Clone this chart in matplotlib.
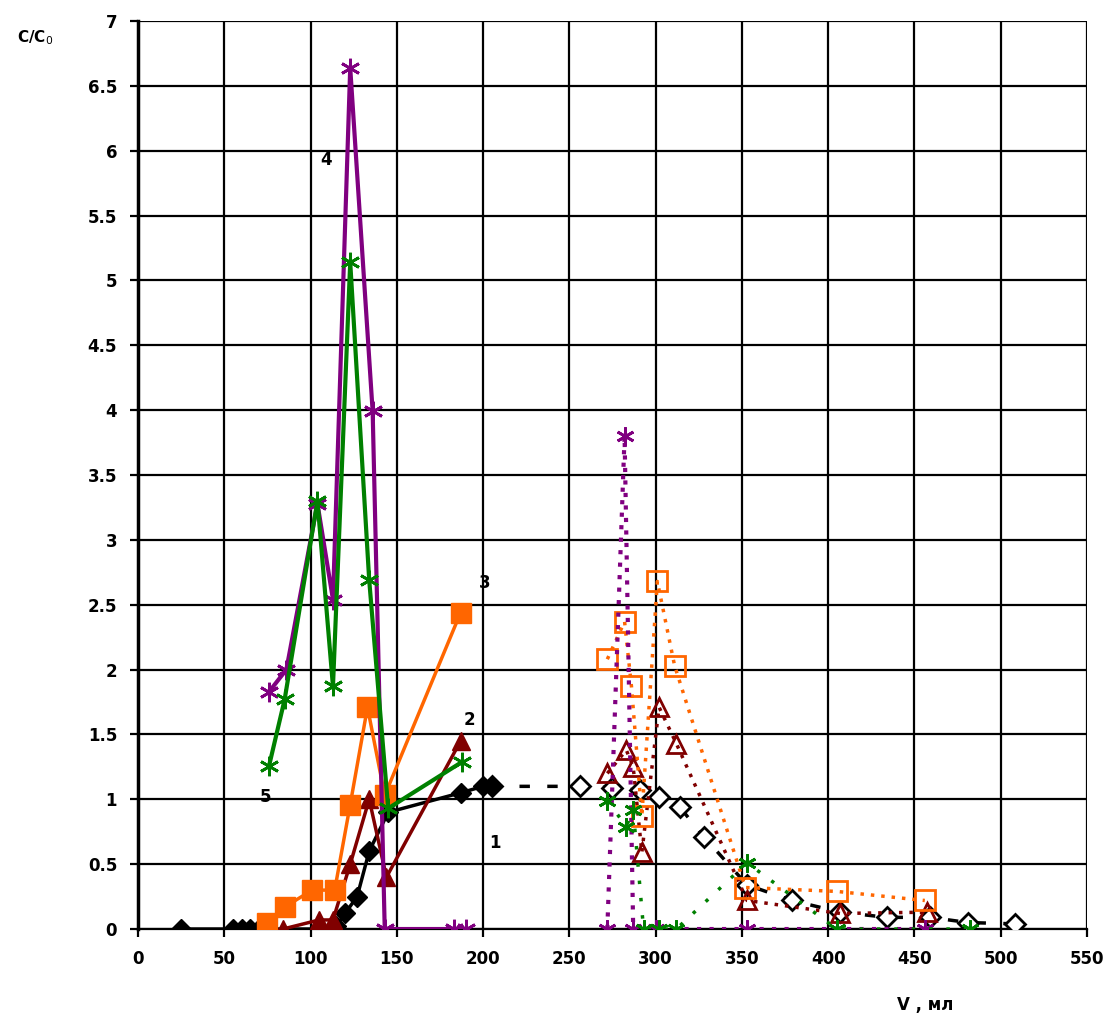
import matplotlib
matplotlib.use('Agg')
import matplotlib.pyplot as plt

# Кривые сорбции (сплошные линии, 1-5)
x1 = [25, 55, 60, 65, 70, 105, 115, 120, 127, 134, 145, 187, 200, 205]
y1 = [0, 0, 0, 0, 0, 0, 0.02, 0.12, 0.25, 0.6, 0.9, 1.05, 1.1, 1.1]
x2 = [84, 105, 113, 123, 134, 144, 187]
y2 = [0, 0.07, 0.07, 0.5, 1.0, 0.4, 1.45]
x3 = [75, 85, 101, 114, 123, 133, 143, 187]
y3 = [0.05, 0.17, 0.3, 0.3, 0.96, 1.71, 1.03, 2.44]
x4 = [76, 86, 104, 113, 123, 136, 143, 183, 190]
y4 = [1.83, 2.0, 3.28, 2.54, 6.64, 3.99, 0, 0, 0]
x5 = [76, 85, 104, 113, 123, 134, 145, 188]
y5 = [1.26, 1.77, 3.3, 1.87, 5.14, 2.69, 0.93, 1.29]

# Кривые десорбции (пунктир)
xd1 = [205, 256, 275, 291, 302, 314, 328, 353, 379, 407, 434, 459, 481, 508]
yd1 = [1.1, 1.1, 1.09, 1.07, 1.02, 0.94, 0.71, 0.34, 0.22, 0.13, 0.09, 0.09, 0.05, 0.04]
xd2 = [272, 283, 287, 292, 302, 312, 353, 407, 457]
yd2 = [1.2, 1.38, 1.25, 0.59, 1.71, 1.43, 0.22, 0.12, 0.13]
xd3 = [272, 282, 286, 292, 301, 311, 352, 405, 456]
yd3 = [2.08, 2.37, 1.87, 0.87, 2.68, 2.03, 0.32, 0.29, 0.22]
xd4 = [272, 282, 287, 300, 353, 405, 456]
yd4 = [0, 3.8, 0, 0, 0, 0, 0]
xd5 = [272, 283, 287, 293, 302, 312, 353, 405, 482]
yd5 = [0.99, 0.79, 0.92, 0, 0, 0, 0.51, 0, 0]

labels = ['1', '2', '3', '4', '5']
label_pos = [(207, 0.66), (192, 1.61), (201, 2.67), (109, 5.93), (74, 1.02)]

BLACK, RED, ORANGE, PURPLE, GREEN = '#000000', '#800000', '#FF6600', '#800080', '#008000'
ast = (6, 2, 0)

fig = plt.figure(figsize=(11.11, 10.16), dpi=100)
ax = fig.add_axes([0.1242, 0.0856, 0.8542, 0.8937])

# сплошные
ax.plot(x1, y1, '-', color=BLACK, lw=2.5, marker='D', ms=10, zorder=5)
ax.plot(x2, y2, '-', color=RED, lw=2.5, marker='^', ms=13, zorder=5)
ax.plot(x3, y3, '-', color=ORANGE, lw=2.5, marker='s', ms=15, zorder=5)
ax.plot(x4, y4, '-', color=PURPLE, lw=3, marker=ast, ms=14, mew=2, zorder=5)
ax.plot(x5, y5, '-', color=GREEN, lw=3, marker=ast, ms=14, mew=2, zorder=5)

# пунктирные
ax.plot(xd1, yd1, color=BLACK, lw=2.5, ls=(0, (3, 5)), marker='D', ms=10,
        mfc='white', mec=BLACK, mew=2, zorder=4)
ax.plot(xd2, yd2, color=RED, lw=2.5, ls=(0, (1, 2)), marker='^', ms=13,
        mfc='none', mec=RED, mew=2, zorder=4)
ax.plot(xd3, yd3, color=ORANGE, lw=2.5, ls=(0, (1, 2)), marker='s', ms=14,
        mfc='none', mec=ORANGE, mew=2, zorder=4)
ax.plot(xd4, yd4, color=PURPLE, lw=3, ls=(0, (1, 2)), marker=ast, ms=13, mew=2, zorder=4)
ax.plot(xd5, yd5, color=GREEN, lw=2.5, ls=(0, (1, 4)), marker=ast, ms=13, mew=2, zorder=4)

for t, (lx, ly) in zip(labels, label_pos):
    ax.text(lx, ly, t, fontsize=12, fontweight='bold', ha='center', va='center', zorder=6)

ax.set_xlim(0, 550)
ax.set_ylim(0, 7)
ax.set_xticks(range(0, 551, 50))
ax.set_yticks([i * 0.5 for i in range(15)])
ax.set_yticklabels(['0', '0.5', '1', '1.5', '2', '2.5', '3', '3.5', '4', '4.5',
                    '5', '5.5', '6', '6.5', '7'])
ax.grid(True, color='black', lw=1.6, zorder=1)
ax.set_axisbelow(True)
for s in ['top', 'right']:
    ax.spines[s].set_visible(False)
ax.spines['left'].set_linewidth(2.5)
ax.spines['bottom'].set_linewidth(1.6)
ax.tick_params(axis='both', length=6, width=1.6, labelsize=12, pad=9)
for lab in ax.get_xticklabels() + ax.get_yticklabels():
    lab.set_fontweight('bold')

fig.text(0.0315, 0.9626, r'C/C$_0$', fontsize=11, fontweight='bold', ha='center', va='center')
fig.text(0.8326, 0.0108, 'V , мл', fontsize=12, fontweight='bold', ha='center', va='center')

fig.savefig('out.png', dpi=100)
